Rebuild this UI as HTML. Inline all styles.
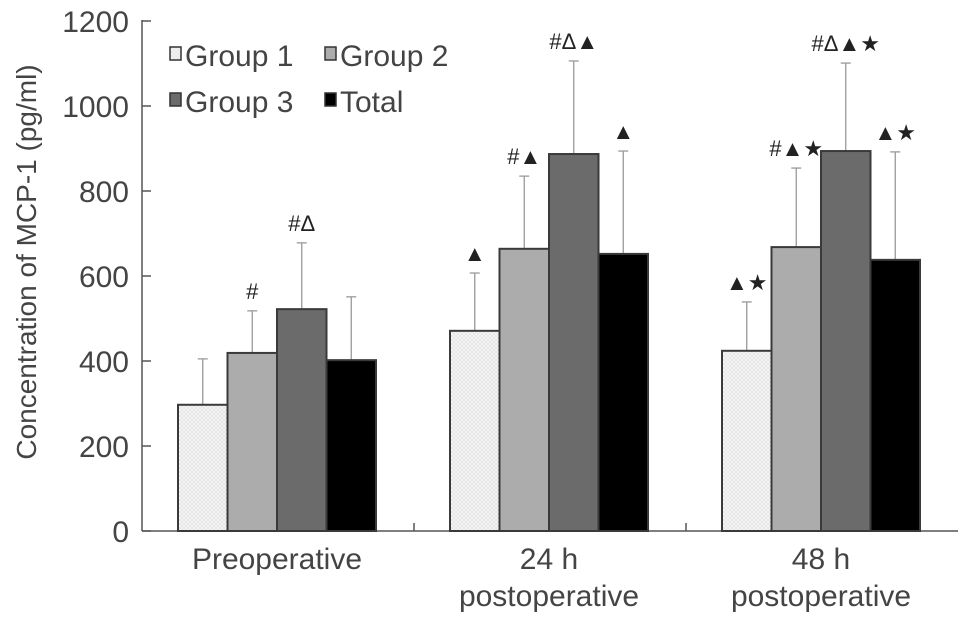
<!DOCTYPE html>
<html><head><meta charset="utf-8"><style>
body{margin:0;background:#fff}
svg text{font-family:"Liberation Sans","DejaVu Sans",sans-serif;fill:#444}
</style></head><body>
<svg id="chart" width="969" height="622" xmlns="http://www.w3.org/2000/svg">
<defs><pattern id="dots" width="4" height="4" patternUnits="userSpaceOnUse"><rect width="4" height="4" fill="#f6f6f6"/><path d="M0 0L4 4M4 0L0 4" stroke="#ddd" stroke-width="0.6"/></pattern></defs>
</svg>
<script>
const categories=[["Preoperative"],["24 h","postoperative"],["48 h","postoperative"]];
const seriesNames=["Group 1","Group 2","Group 3","Total"];
const g1=[297,471,424];
const g2=[419,664,668];
const g3=[522,887,894];
const tot=[402,652,638];
const g1Err=[405,607,539];
const g2Err=[518,835,854];
const g3Err=[678,1106,1101];
const totErr=[551,894,892];
const g1Sig=["","▲","▲★"];
const g2Sig=["#","#▲","#▲★"];
const g3Sig=["#Δ","#Δ▲","#Δ▲★"];
const totSig=["","▲","▲★"];
const yTicks=[0,200,400,600,800,1000,1200];

const svg=document.getElementById('chart');const NS="http://www.w3.org/2000/svg";
function mk(t,a,p){const e=document.createElementNS(NS,t);for(const k in a)e.setAttribute(k,a[k]);(p||svg).appendChild(e);return e;}
const x0=142,y0=531,ymax=1200,ph=510,catW=272;
const y=v=>y0-v/ymax*ph;
const catX=i=>x0+catW*i+36;
const barW=49.5;
const fills=["url(#dots)","#acacac","#6b6b6b","#000"];
const vals=[g1,g2,g3,tot],errs=[g1Err,g2Err,g3Err,totErr],sigs=[g1Sig,g2Sig,g3Sig,totSig];

let ax=mk('line',{x1:x0,y1:y(ymax)-1,x2:x0,y2:y0,stroke:'#555','stroke-width':1.5});

let bx=mk('line',{x1:x0,y1:y0,x2:958,y2:y0,stroke:'#555','stroke-width':1.5});

yTicks.forEach(t=>{
  mk('line',{x1:x0,y1:y(t),x2:x0+9,y2:y(t),stroke:'#555','stroke-width':1.5});
  const tx=mk('text',{x:x0-13,y:y(t)+11,'text-anchor':'end','font-size':30});tx.textContent=t;
  
});
[1,2].forEach(i=>mk('line',{x1:x0+catW*i,y1:y0,x2:x0+catW*i,y2:y0-8,stroke:'#555','stroke-width':1.5}));
const yt=mk('text',{x:0,y:0,transform:'translate(36,262) rotate(-90)','text-anchor':'middle','font-size':28});
yt.textContent="Concentration of MCP-1 (pg/ml)";


categories.forEach((c,i)=>{
  const cx=catX(i)+barW*2;
  c.forEach((l,j)=>{const t=mk('text',{x:cx,y:569+j*37,'text-anchor':'middle','font-size':30});t.textContent=l;
    });
  for(let s=0;s<4;s++){
    const bxp=catX(i)+s*barW,v=vals[s][i],e=errs[s][i];
    const mid=bxp+barW/2;
    const el=mk('line',{x1:mid,y1:y(e),x2:mid,y2:y(v),stroke:'#999','stroke-width':1.3});
    
    mk('line',{x1:mid-5,y1:y(e),x2:mid+5,y2:y(e),stroke:'#999','stroke-width':1.3});
    const r=mk('rect',{x:bxp,y:y(v),width:barW,height:y0-y(v),fill:fills[s],stroke:'#3a3a3a','stroke-width':2});
    
    
    if(sigs[s][i]){const t=mk('text',{x:mid,y:y(e)-12,'text-anchor':'middle','font-size':22,style:'fill:#222'});t.textContent=sigs[s][i];
      }
  }
});
const lp=[[170,66],[325,66],[170,112],[325,112]];
seriesNames.forEach((n,s)=>{
  const g=mk('g',{});
  
  mk('rect',{x:lp[s][0],y:lp[s][1]-19,width:11,height:13,fill:fills[s],stroke:'#333','stroke-width':1.5},g);
  const t=mk('text',{x:lp[s][0]+15,y:lp[s][1],'font-size':30},g);t.textContent=n;
});
</script>
</body></html>
